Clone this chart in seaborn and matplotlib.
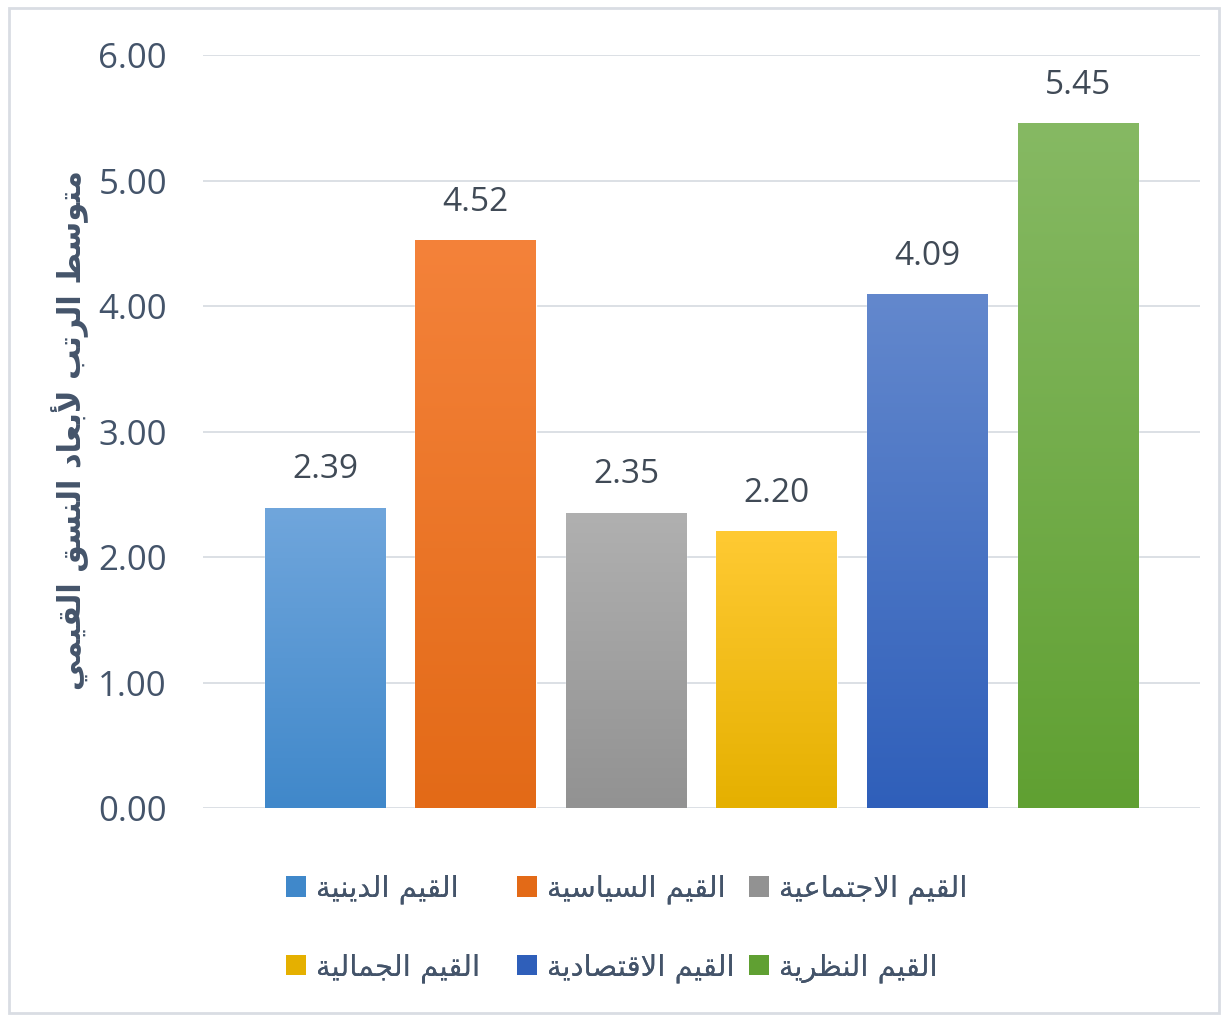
import numpy as np
import matplotlib
matplotlib.use("Agg")
import matplotlib.pyplot as plt
import seaborn as sns
from matplotlib.colors import LinearSegmentedColormap
from matplotlib.patches import Patch, Rectangle

# ---------------- data ----------------
categories = ["القيم الدينية", "القيم السياسية", "القيم الاجتماعية",
              "القيم الجمالية", "القيم الاقتصادية", "القيم النظرية"]
values = [2.39, 4.52, 2.35, 2.20, 4.09, 5.45]
y_ticks = [0, 1, 2, 3, 4, 5, 6]
y_label = "متوسط الرتب لأبعاد النسق القيمي"
top_colors = ["#70a6dc", "#f4823a", "#b0b0b0", "#ffca33", "#6388cd", "#86b963"]
bottom_colors = ["#4088ca", "#e36a17", "#929292", "#e5b000", "#2f5fba", "#60a032"]

# ---------------- minimal Arabic shaping ----------------
FORMS = {  # isolated, final, initial, medial
    "\u0627": (0xFE8D, 0xFE8E, None, None),
    "\u0623": (0xFE83, 0xFE84, None, None),
    "\u0628": (0xFE8F, 0xFE90, 0xFE91, 0xFE92),
    "\u0629": (0xFE93, 0xFE94, None, None),
    "\u062A": (0xFE95, 0xFE96, 0xFE97, 0xFE98),
    "\u062C": (0xFE9D, 0xFE9E, 0xFE9F, 0xFEA0),
    "\u062F": (0xFEA9, 0xFEAA, None, None),
    "\u0631": (0xFEAD, 0xFEAE, None, None),
    "\u0633": (0xFEB1, 0xFEB2, 0xFEB3, 0xFEB4),
    "\u0635": (0xFEB9, 0xFEBA, 0xFEBB, 0xFEBC),
    "\u0637": (0xFEC1, 0xFEC2, 0xFEC3, 0xFEC4),
    "\u0638": (0xFEC5, 0xFEC6, 0xFEC7, 0xFEC8),
    "\u0639": (0xFEC9, 0xFECA, 0xFECB, 0xFECC),
    "\u0642": (0xFED5, 0xFED6, 0xFED7, 0xFED8),
    "\u0644": (0xFEDD, 0xFEDE, 0xFEDF, 0xFEE0),
    "\u0645": (0xFEE1, 0xFEE2, 0xFEE3, 0xFEE4),
    "\u0646": (0xFEE5, 0xFEE6, 0xFEE7, 0xFEE8),
    "\u0647": (0xFEE9, 0xFEEA, 0xFEEB, 0xFEEC),
    "\u0648": (0xFEED, 0xFEEE, None, None),
    "\u064A": (0xFEF1, 0xFEF2, 0xFEF3, 0xFEF4),
    "LA": (0xFEFB, 0xFEFC, None, None),
    "LAH": (0xFEF7, 0xFEF8, None, None),
}


def shape(text):
    out_words = []
    for word in text.split(" "):
        toks = []
        i = 0
        while i < len(word):
            c = word[i]
            if c == "\u0644" and i + 1 < len(word) and word[i + 1] in ("\u0627", "\u0623"):
                toks.append("LA" if word[i + 1] == "\u0627" else "LAH")
                i += 2
            else:
                toks.append(c)
                i += 1
        res = []
        for k, t in enumerate(toks):
            f = FORMS.get(t)
            if f is None:
                res.append(t)
                continue
            dual = f[2] is not None
            prev = toks[k - 1] if k > 0 else None
            prev_joins = prev is not None and prev in FORMS and FORMS[prev][2] is not None
            next_exists = k + 1 < len(toks) and toks[k + 1] in FORMS
            cp = prev_joins
            cn = dual and next_exists
            if cp and cn:
                code = f[3]
            elif cp:
                code = f[1]
            elif cn:
                code = f[2]
            else:
                code = f[0]
            res.append(chr(code))
        out_words.append("".join(res))
    return " ".join(out_words)[::-1]


# ---------------- plot ----------------
sns.set_theme(style="white")
plt.rcParams["font.family"] = ["Open Sans", "DejaVu Sans"]

fig = plt.figure(figsize=(12.28, 10.19), dpi=100)
ax = fig.add_axes([0.1653, 0.207, 0.8117, 0.739])

sns.barplot(x=categories, y=values, hue=categories, palette=bottom_colors,
            width=0.8, legend=False, ax=ax, order=categories, hue_order=categories)

text_col = "#44546a"
for i, p in enumerate(ax.patches):
    x0, w, h = p.get_x(), p.get_width(), p.get_height()
    cmap = LinearSegmentedColormap.from_list(f"g{i}", [bottom_colors[i], top_colors[i]])
    grad = np.linspace(0, 1, 256).reshape(-1, 1)
    ax.imshow(grad, cmap=cmap, extent=[x0, x0 + w, 0, h], origin="lower",
              aspect="auto", zorder=3, interpolation="bicubic")
    p.set_zorder(2)
    ax.annotate(f"{values[i]:.2f}", (x0 + w / 2, h), xytext=(0, 16),
                textcoords="offset points", ha="center", va="bottom",
                fontsize=24, color="#404a56")

ax.set_xlim(-0.81, 5.81)
ax.set_ylim(0, 6)
ax.set_yticks(y_ticks)
ax.set_yticklabels([f"{v:.2f}" for v in y_ticks], fontsize=25, color=text_col)
ax.tick_params(axis="y", length=0, pad=26)
ax.set_xticks([])
ax.set_xlabel("")
ax.set_ylabel("")
ax.grid(axis="y", color="#d9dde3", linewidth=1.3, zorder=0)
ax.set_axisbelow(True)
for s in ax.spines.values():
    s.set_visible(False)

fig.text(0.057, 0.578, shape(y_label), rotation=90, ha="center", va="center",
         fontsize=22, fontweight="bold", color=text_col, family=["DejaVu Sans"])

# legend: three columns at fixed positions, two rows each
columns = [[0, 3], [1, 4], [2, 5]]
col_x = [0.2329, 0.421, 0.610]
for cx, idxs in zip(col_x, columns):
    handles = [Patch(facecolor=bottom_colors[k], edgecolor="none") for k in idxs]
    labels = [shape(categories[k]) for k in idxs]
    leg = fig.legend(handles, labels, ncol=1, loc="upper left",
                     bbox_to_anchor=(cx, 0.1415), frameon=False, borderpad=0,
                     borderaxespad=0, prop={"family": "DejaVu Sans", "size": 21},
                     handlelength=0.68, handleheight=0.72, handletextpad=0.35,
                     labelspacing=1.68, labelcolor=text_col)
    fig.add_artist(leg)

fig.add_artist(Rectangle((0.007, 0.006), 0.986, 0.986, transform=fig.transFigure,
                         fill=False, edgecolor="#d9dde3", linewidth=2))

fig.savefig("out.png", dpi=100)
